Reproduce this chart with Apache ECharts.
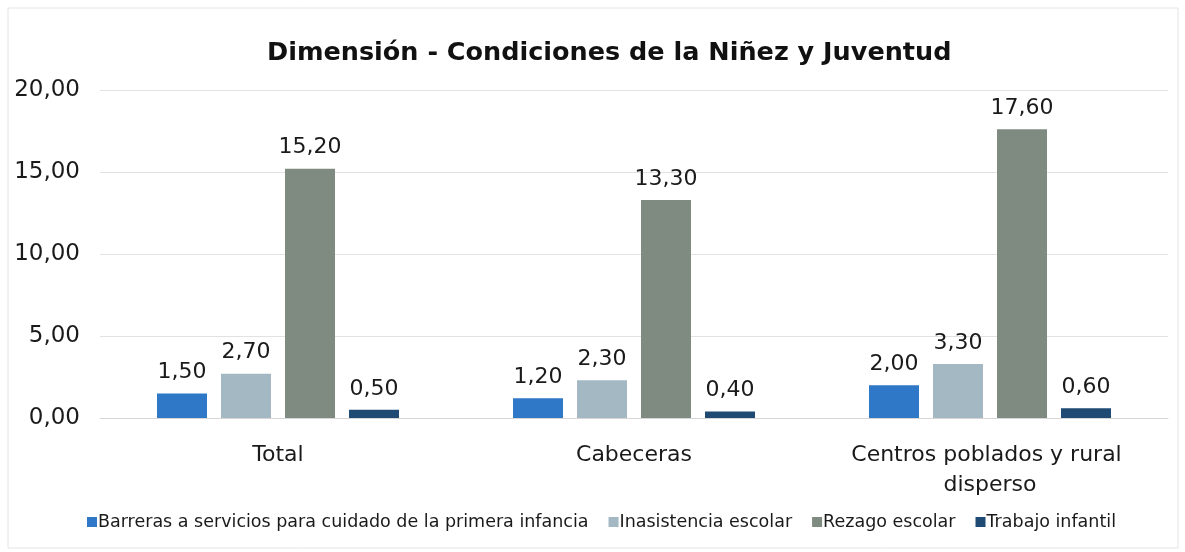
<!DOCTYPE html>
<html>
<head>
<meta charset="utf-8">
<script src="https://cdn.jsdelivr.net/npm/echarts@6/dist/echarts.min.js"></script>
<style>
  html, body { margin: 0; padding: 0; background: #ffffff; }
  #chart { width: 1185px; height: 552px; }
</style>
</head>
<body>
<div id="chart"></div>
<script>
// Zonas geográficas
const categories = ['Total', 'Cabeceras', 'Centros poblados y rural disperso'];
// Indicadores de la dimensión (porcentaje)
const barreras = [1.5, 1.2, 2.0];
const inasistencia = [2.7, 2.3, 3.3];
const rezago = [15.2, 13.3, 17.6];
const trabajo = [0.5, 0.4, 0.6];
const seriesNames = [
  'Barreras a servicios para cuidado de la primera infancia',
  'Inasistencia escolar',
  'Rezago escolar',
  'Trabajo infantil'
];
const yTicks = [0, 5, 10, 15, 20];

const FONT = '"DejaVu Sans", Lato, sans-serif';
const colors = ['#2f78c8', '#a3b8c2', '#7f8a80', '#1f4a73'];
const fmt = v => v.toFixed(2).replace('.', ',');

const chart = echarts.init(document.getElementById('chart'));

function makeSeries(name, data, color) {
  return {
    name: name,
    type: 'bar',
    data: data,
    barWidth: 50,
    barGap: '28%',
    itemStyle: { color: color },
    label: {
      show: true,
      position: 'top',
      distance: 10,
      color: '#1a1a1a',
      fontFamily: FONT,
      fontSize: 22,
      formatter: p => fmt(p.value)
    }
  };
}

chart.setOption({
  backgroundColor: '#ffffff',
  animation: false,
  color: colors,
  title: {
    text: 'Dimensión - Condiciones de la Niñez y Juventud',
    left: 262,
    top: 35,
    textStyle: { fontFamily: FONT, fontWeight: 'bold', fontSize: 25.5, color: '#111111' }
  },
  graphic: [{
    type: 'rect',
    shape: { x: 8, y: 8, width: 1170, height: 540 },
    style: { fill: 'none', stroke: '#e4e4e4', lineWidth: 1 },
    silent: true
  }],
  legend: {
    bottom: 16,
    left: 82,
    itemWidth: 10,
    itemHeight: 10,
    itemGap: 20,
    icon: 'rect',
    textStyle: { fontFamily: FONT, fontSize: 17.5, color: '#1a1a1a', padding: [0, 0, 0, -4] },
    data: seriesNames
  },
  grid: { left: 100, right: 17, top: 90, bottom: 134, containLabel: false },
  xAxis: {
    type: 'category',
    data: categories,
    axisLine: { show: true, lineStyle: { color: '#d6d6d6' } },
    axisTick: { show: false },
    axisLabel: {
      interval: 0,
      color: '#1a1a1a',
      fontFamily: FONT,
      fontSize: 22,
      margin: 22,
      lineHeight: 30,
      width: 340,
      overflow: 'break'
    }
  },
  yAxis: {
    type: 'value',
    min: yTicks[0],
    max: yTicks[yTicks.length - 1],
    interval: 5,
    axisLine: { show: false },
    axisTick: { show: false },
    splitLine: { lineStyle: { color: '#e2e2e2' } },
    axisLabel: {
      color: '#1a1a1a',
      fontFamily: FONT,
      fontSize: 23,
      margin: 20,
      formatter: v => fmt(v)
    }
  },
  series: [
    makeSeries(seriesNames[0], barreras, colors[0]),
    makeSeries(seriesNames[1], inasistencia, colors[1]),
    makeSeries(seriesNames[2], rezago, colors[2]),
    makeSeries(seriesNames[3], trabajo, colors[3])
  ]
});
</script>
</body>
</html>
